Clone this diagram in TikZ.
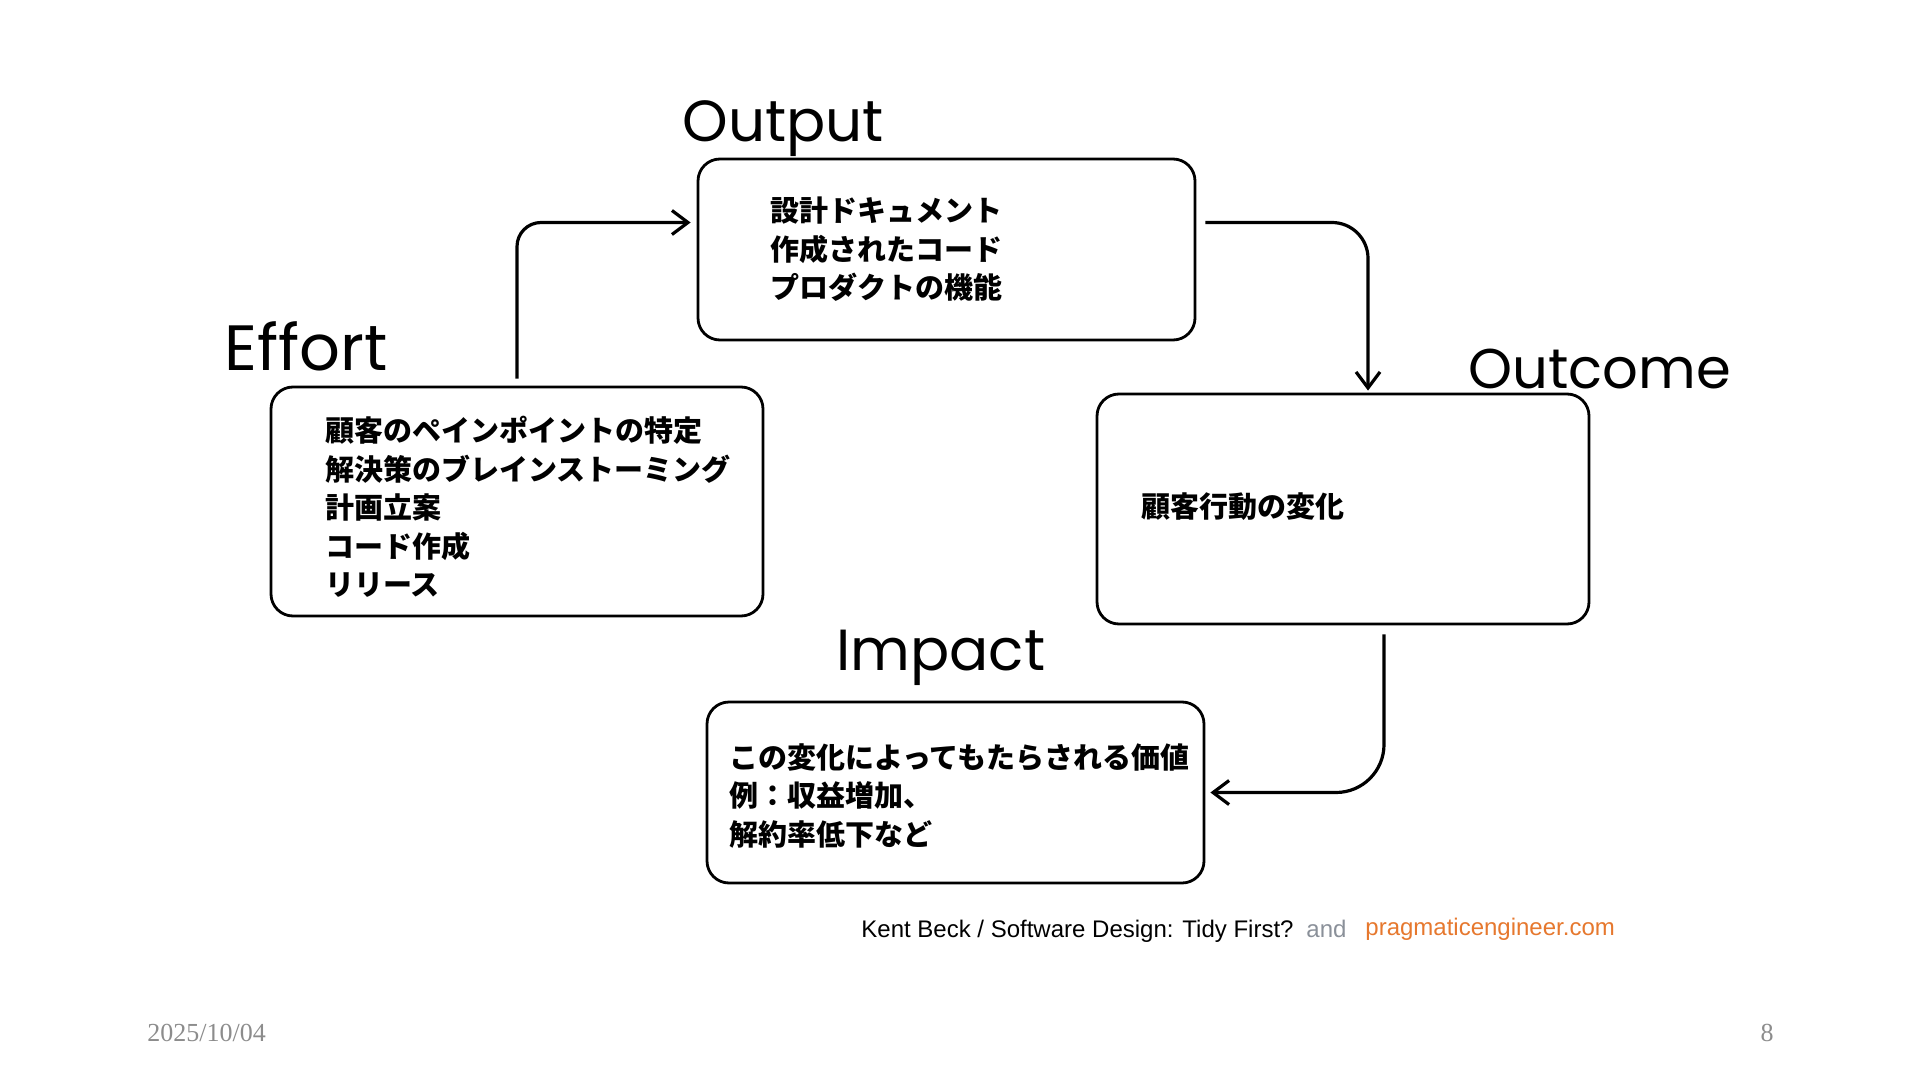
\documentclass[tikz,border=0pt]{standalone}
\usepackage{fontspec}
\usetikzlibrary{arrows.meta}
\newfontfamily\cjk{Noto Sans CJK JP}[BoldFont={Noto Sans CJK JP Black}]
\newfontfamily\handfont{Poppins}
\newfontfamily\footfont{Liberation Sans}
\newfontfamily\datefont{Liberation Serif}
\definecolor{pragorange}{HTML}{E6782E}
\definecolor{andgray}{HTML}{8A9099}
\definecolor{dategray}{HTML}{8C8C8C}
\tikzset{
  stagebox/.style={draw,line width=1.4pt,rounded corners=11pt,inner sep=0pt},
  stagetitle/.style={font=\handfont\fontsize{29}{29}\selectfont,anchor=base west,inner sep=0pt},
  stagetext/.style={font=\cjk\bfseries\fontsize{14.5}{19.3}\selectfont,align=left,anchor=west,inner sep=0pt},
  flow/.style={line width=1.6pt,-{Straight Barb[length=8pt,width=12pt]}},
  footnote/.style={font=\footfont\fontsize{12}{12}\selectfont,anchor=base west,inner sep=0pt}
}
\begin{document}
\begin{tikzpicture}[x=0.5pt,y=-0.5pt]
  \useasboundingbox (0,0) rectangle (1920,1080);
  % the four boxes
  \node[stagebox,minimum width=248.5pt,minimum height=90.5pt] (Output) at (946.5,249.5) {};
  \node[stagebox,minimum width=246pt,minimum height=114.5pt] (Effort) at (517,501.5) {};
  \node[stagebox,minimum width=246pt,minimum height=115pt] (Outcome) at (1343,509) {};
  \node[stagebox,minimum width=248.5pt,minimum height=90.5pt] (Impact) at (955.5,792.5) {};
  % titles
  \node[stagetitle] (OutputTitle) at (682,142) {Output};
  \node[stagetitle,font=\handfont\fontsize{32}{32}\selectfont] (EffortTitle) at (224,371) {Effort};
  \node[stagetitle,font=\handfont\fontsize{28}{28}\selectfont] (OutcomeTitle) at (1468,388) {Outcome};
  \node[stagetitle] (ImpactTitle) at (836,670) {Impact};
  % contents
  \node[stagetext] (OutputText) at ([xshift=36.5pt]Output.west)
      {設計ドキュメント\\作成されたコード\\プロダクトの機能};
  \node[stagetext] (EffortText) at ([xshift=27.5pt,yshift=-2.75pt]Effort.west)
      {顧客のペインポイントの特定\\解決策のブレインストーミング\\計画立案\\コード作成\\リリース};
  \node[stagetext] (OutcomeText) at ([xshift=22.5pt,yshift=1pt]Outcome.west)
      {顧客行動の変化};
  \node[stagetext] (ImpactText) at ([xshift=11.5pt,yshift=-1.75pt]Impact.west)
      {この変化によってもたらされる価値\\例：収益増加、\\解約率低下など};
  % cycle
  \draw[flow,rounded corners=12pt] ([yshift=3.5pt]Effort.north)
      |- ([xshift=-3pt,yshift=13.5pt]Output.west);
  \draw[flow,rounded corners=18pt] ([xshift=4.5pt,yshift=13.5pt]Output.east)
      -| ([xshift=12.5pt,yshift=1pt]Outcome.north);
  \draw[flow,rounded corners=24pt] ([xshift=20.5pt,yshift=-4.5pt]Outcome.south)
      |- ([xshift=2.5pt]Impact.east);
  % source line and footer
  \node[footnote] (Source) at (861,937) {Kent Beck / Software Design: Tidy First?};
  \node[footnote,text=andgray] (And) at (1306,937) {and};
  \node[footnote,text=pragorange] (Site) at (1365,935) {pragmaticengineer.com};
  \node[font=\datefont\fontsize{13}{13}\selectfont,text=dategray,anchor=base west,inner sep=0pt]
      (Date) at (147,1041) {2025/10/04};
  \node[font=\datefont\fontsize{13}{13}\selectfont,text=dategray,anchor=base,inner sep=0pt]
      (Page) at (1767,1041) {8};
\end{tikzpicture}
\end{document}
